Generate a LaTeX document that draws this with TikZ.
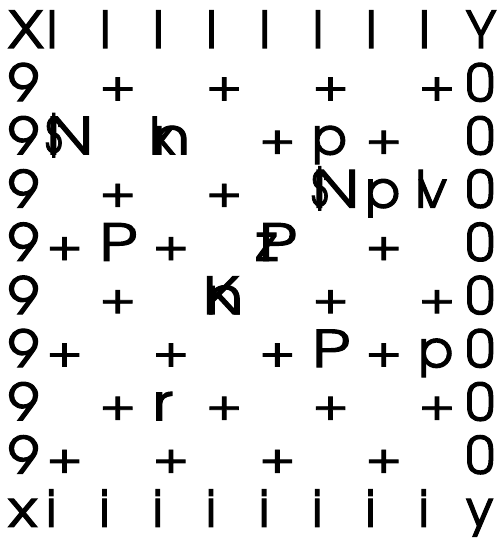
\documentclass[tikz,border=0pt]{standalone}
\usepackage{graphicx}
\usepackage{fontspec}
\setmainfont{TeX Gyre Adventor}[FakeBold=2]
\begin{document}
\begin{tikzpicture}[x=1pt,y=1pt,
    sq/.style={anchor=base west, inner sep=0pt, outer sep=0pt, text depth=0pt,
      font=\fontsize{51}{51}\selectfont}]
  \useasboundingbox (0,0) rectangle (503,-540);
  % 1. 邊框：上下兩列
  \node[sq] (t0) at (8,-48) {\scalebox{1.15}[1]{X}};
  \node[sq] (t9) at (466,-48) {Y};
  \node[sq] (b0) at (8,-526.8) {\scalebox{1.2}[1]{x}};
  \node[sq] (b9) at (466,-526.8) {y};
  \foreach \c in {1,...,8}{
    \node[sq] (t\c) at ({53.2*\c-7},-48) {I};
    \node[sq] (b\c) at ({53.2*\c-7},-526.8) {i};
  }
  % 2. 邊框：左右兩行
  \foreach \r in {1,...,8}{
    \node[sq] (l\r) at (8,{-48-53.2*\r}) {\scalebox{1.1}[1]{9}};
    \node[sq] (r\r) at (466,{-48-53.2*\r}) {0};
  }
  % 3. 空的暗格
  \foreach \r/\c in {1/2,1/4,1/6,1/8, 2/5,2/7, 3/2,3/4, 4/1,4/3,4/7,
                     5/2,5/6,5/8, 6/1,6/3,6/5,6/7, 7/2,7/4,7/6,7/8,
                     8/1,8/3,8/5,8/7}{
    \node[sq] (e\r\c) at ({53.2*\c-7},{-48-53.2*\r}) {\raisebox{2pt}{\scalebox{1}[0.8]{+}}};
  }
  % 4. 亮格上的棋子
  \foreach \r/\c/\s/\f in {2/6/p/1, 3/7/p/1, 4/2/P/1.25, 6/6/P/1.25, 6/8/p/1, 7/3/r/1.3}{
    \node[sq] (p\r\c) at ({53.2*\c-7},{-48-53.2*\r}) {\scalebox{\f}[1]{\s}};
  }
  % 5. 暗格上的棋子（兩字重疊）
  \foreach \r/\c/\s/\f/\t/\g in {2/1/\$/0.75/N/1.25, 2/3/k/1/n/1.2, 3/6/\$/0.75/N/1.25,
                                3/8/l/1/v/1, 4/5/z/1/P/1.25, 5/4/K/1.2/n/1.2}{
    \node[sq] (pa\r\c) at ({53.2*\c-7-3},{-48-53.2*\r}) {\scalebox{\f}[1]{\s}};
    \node[sq] (pb\r\c) at ({53.2*\c-7},{-48-53.2*\r}) {\scalebox{\g}[1]{\t}};
  }
\end{tikzpicture}
\end{document}
